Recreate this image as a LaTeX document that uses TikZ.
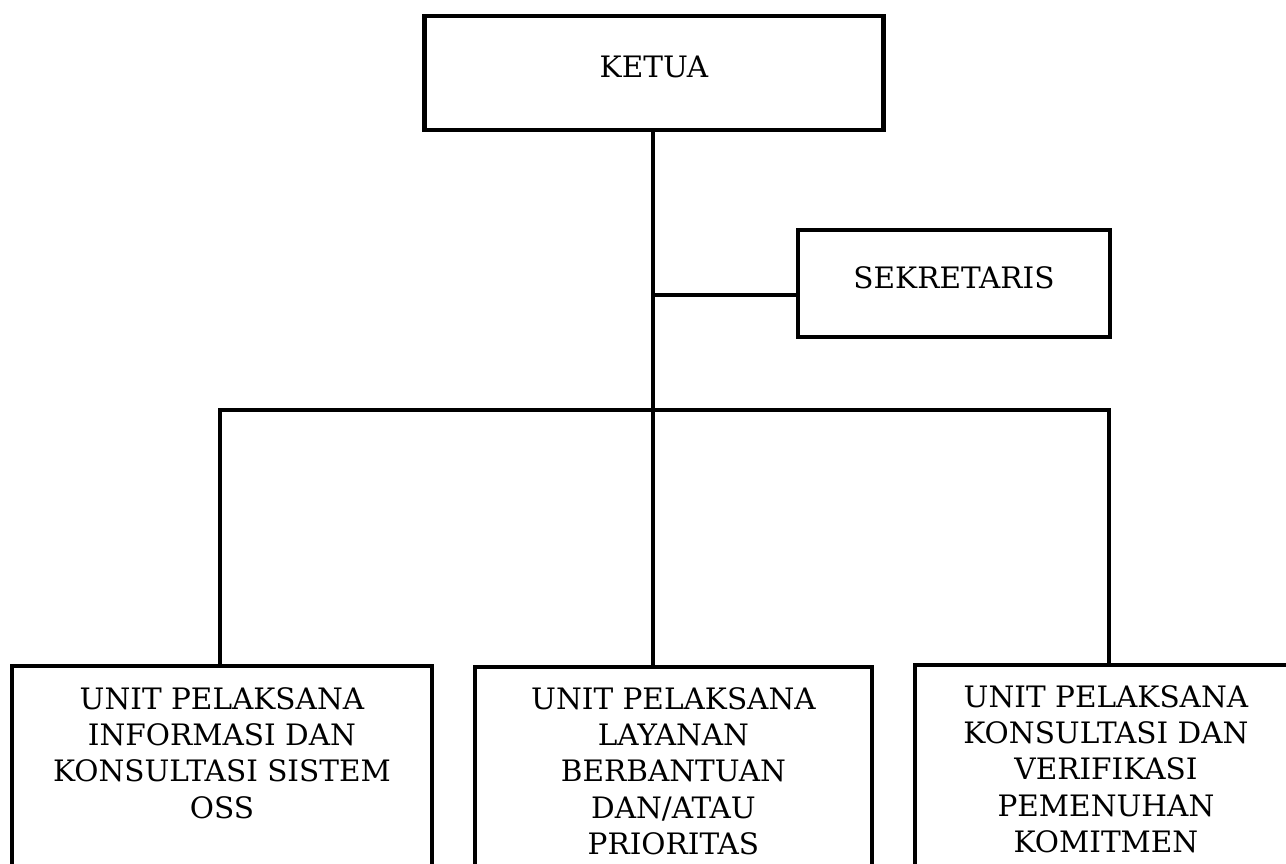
\documentclass[tikz,border=0pt]{standalone}
\usepackage{fontspec}
\setmainfont{DejaVu Serif}
\usetikzlibrary{calc}
\begin{document}
\begin{tikzpicture}[x=0.02cm,y=-0.02cm,
  lw/.style={line width=2.5pt},
  orgbox/.style={draw, lw, outer sep=0pt, inner sep=0pt, fill=white},
  boxtext/.style={font={\fontsize{16.8pt}{20.7pt}\selectfont}, align=center, inner sep=0pt, anchor=north},
  conn/.style={lw}]
\useasboundingbox (0,0) rectangle (1286,864);
\clip (0,0) rectangle (1286,864);
\fill[white] (0,0) rectangle (1286,864);
% top boxes
\node[orgbox, minimum width=9.18cm, minimum height=2.28cm, text height=12pt, text depth=7pt,
  font={\fontsize{16.8pt}{20.7pt}\selectfont}] (ketua) at (654,73) {KETUA};
\node[orgbox, minimum width=6.24cm, minimum height=2.14cm, text height=12pt, text depth=6pt,
  font={\fontsize{16.8pt}{20.7pt}\selectfont}] (sek) at (954,283.5) {SEKRETARIS};
% bottom boxes
\node[orgbox, anchor=north west, minimum width=8.4cm, minimum height=6cm] (u1) at (12,666) {};
\node[orgbox, anchor=north west, minimum width=7.94cm, minimum height=6cm] (u2) at (475,667) {};
\node[orgbox, anchor=north west, minimum width=7.64cm, minimum height=6cm] (u3) at (915,665) {};
\node[boxtext] (t1) at ($(u1.north)+(0,21)$) {UNIT PELAKSANA\\INFORMASI DAN\\KONSULTASI SISTEM\\OSS};
\node[boxtext] (t2) at ($(u2.north)+(0,20)$) {UNIT PELAKSANA\\LAYANAN\\BERBANTUAN\\DAN/ATAU\\PRIORITAS};
\node[boxtext] (t3) at ($(u3.north)+(0,20)$) {UNIT PELAKSANA\\KONSULTASI DAN\\VERIFIKASI\\PEMENUHAN\\KOMITMEN};
% connectors
\coordinate (bus) at (653,410);
\coordinate (sj) at (653,295);
\coordinate (d1) at (220,410);
\coordinate (d3) at (1109,410);
\draw[conn] (ketua.south -| bus) -- (bus);
\draw[conn] (sj) -- (sj -| sek.west);
\draw[conn, line cap=rect] (d1) -- (d3);
\draw[conn] (d1) -- (d1 |- u1.north);
\draw[conn] (bus) -- (bus |- u2.north);
\draw[conn] (d3) -- (d3 |- u3.north);
\end{tikzpicture}
\end{document}
